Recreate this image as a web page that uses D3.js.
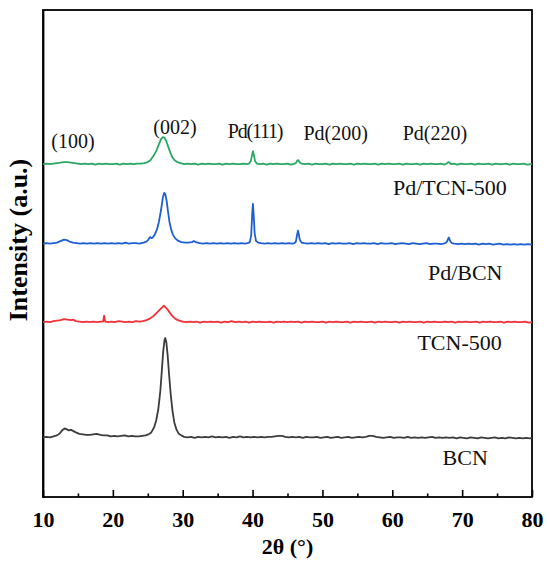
<!DOCTYPE html>
<html>
<head>
<meta charset="utf-8">
<script src="https://cdn.jsdelivr.net/npm/d3@7"></script>
<style>
  body { margin: 0; background: #fff; }
  svg text { font-family: "Liberation Serif", "Times New Roman", serif; }
</style>
</head>
<body>
<svg id="chart" width="550" height="565"></svg>
<script>
// x ticks
const xTicks = [10, 20, 30, 40, 50, 60, 70, 80];
const xMinorTicks = [15, 25, 35, 45, 55, 65, 75];

// series names, vertical offsets (a.u.) and colours
const seriesNames = ["BCN", "TCN-500", "Pd/BCN", "Pd/TCN-500"];
const seriesOffsets = [60, 176, 255, 335];
const seriesColors = ["#3c3c3c", "#f2303a", "#1d5fd2", "#28a862"];

// peak labels
const peakLabels = ["(100)", "(002)", "Pd(111)", "Pd(200)", "Pd(220)"];
const peakLabelX = [14.3, 28.9, 40.35, 51.9, 66.1];
const peakLabelY = [351, 365, 361, 359, 359];

// BCN  [2theta, intensity above own baseline]
const bcn = [
  [10,0],[10.5,0.5],[11,0],[11.5,1],[12,2],[12.4,4],[12.8,7.5],[13.1,9],[13.4,8],[13.7,7],
  [14,7.5],[14.3,6.5],[14.7,5],[15.2,3.5],[15.7,3],[16.2,2.5],[16.7,2.5],[17.2,3],[17.7,3.5],[18.2,2.5],
  [18.7,2],[19.2,2],[19.7,1],[20.2,1.5],[20.7,1],[21.2,1.5],[21.7,2],[22.2,1],[22.7,1.5],[23.2,1],
  [23.7,1],[24.2,1.5],[24.7,2],[25.1,3],[25.5,5],[25.9,10],[26.2,17],[26.5,28],[26.8,47],[27.0,66],
  [27.2,86],[27.4,98],[27.5,100],[27.65,96],[27.85,82],[28.05,63],[28.3,42],[28.55,26],[28.8,15],[29.1,8],
  [29.4,4],[29.8,2],[30.2,0.5],[30.7,0],[31.2,0.5],[31.7,-0.5],[32.2,0.5],[32.7,0],[33.2,0.5],[33.7,0],
  [34.2,1],[34.7,0],[35.2,0.5],[35.7,0],[36.2,0.5],[36.7,-0.5],[37.2,0.5],[37.7,0],[38.2,1],[38.7,0],
  [39.2,0.5],[39.7,0],[40.2,0.5],[40.7,0],[41.2,0.5],[41.7,0],[42.2,0.5],[42.7,0.5],[43.2,1],[43.7,1.5],
  [44.2,1.5],[44.7,0.5],[45.2,0],[45.7,0.5],[46.2,0],[46.7,0.5],[47.2,-0.5],[47.7,0.5],[48.2,0],[48.7,0],
  [49.2,0.5],[49.7,-0.5],[50.2,0],[50.7,0.5],[51.2,-0.5],[51.7,0],[52.2,0.5],[52.7,-0.5],[53.2,0],[53.7,0.5],
  [54.2,-0.5],[54.7,0],[55.2,0.5],[55.7,0],[56.2,0.5],[56.7,1.5],[57.2,1.5],[57.7,0.5],[58.2,0],[58.7,-0.5],
  [59.2,0],[59.7,0.5],[60.2,-0.5],[60.7,0],[61.2,0],[61.7,-0.5],[62.2,0.5],[62.7,-0.5],[63.2,0],[63.7,-0.5],
  [64.2,0],[64.7,-0.5],[65.2,0],[65.7,0.5],[66.2,-0.5],[66.7,0],[67.2,-0.5],[67.7,0],[68.2,-0.5],[68.7,0],
  [69.2,-1],[69.7,0],[70.2,-0.5],[70.7,-1],[71.2,0],[71.7,-0.5],[72.2,-1],[72.7,0],[73.2,-0.5],[73.7,-1],
  [74.2,-0.5],[74.7,0],[75.2,-1],[75.7,-0.5],[76.2,-1],[76.7,0],[77.2,-0.5],[77.7,-1],[78.2,-0.5],[78.7,-1],
  [79.2,-0.5],[79.7,-1],[80,-0.5]
];

// TCN-500
const tcn500 = [
  [10,0],[10.5,0.5],[11,0],[11.5,1],[12,1.5],[12.5,2],[13,3],[13.5,2.5],[14,2],[14.3,2.5],
  [14.7,1],[15.2,0.5],[15.7,0],[16.2,0.5],[16.7,0],[17.2,0.5],[17.7,0],[18.2,0.5],[18.6,0.5],[18.75,6.5],
  [18.9,0.5],[19.3,0],[19.8,0.5],[20.3,0],[20.8,1],[21.3,0.5],[21.8,0],[22.3,0.5],[22.8,0],[23.3,1],
  [23.8,0.5],[24.3,1],[24.8,2],[25.3,3.5],[25.8,6],[26.3,9.5],[26.8,13],[27.1,15],[27.3,16.5],[27.5,15],
  [27.8,13],[28.2,9],[28.6,5.5],[29.0,3],[29.5,1.5],[30,0.5],[30.5,0],[31,0.5],[31.5,0],[32,0.5],
  [32.5,-0.5],[33,0.5],[33.5,0],[34,0.5],[34.5,0],[35,0.5],[35.5,-0.5],[36,0.5],[36.5,0],[37,1],
  [37.5,0],[38,0.5],[38.5,0],[39,0.5],[39.5,-0.5],[40,0.5],[40.5,0],[41,0.5],[41.5,0],[42,0],
  [42.5,0.5],[43,-0.5],[43.5,0.5],[44,0],[44.5,0.5],[45,0],[45.5,0.5],[46,0],[46.5,0.5],[47,-0.5],
  [47.5,0.5],[48,0],[48.5,0.5],[49,0],[49.5,0],[50,0.5],[50.5,-0.5],[51,0.5],[51.5,0],[52,0.5],
  [52.5,0],[53,0],[53.5,0.5],[54,-0.5],[54.5,0.5],[55,0],[55.5,0.5],[56,0],[56.5,0],[57,0.5],
  [57.5,-0.5],[58,0.5],[58.5,0],[59,0.5],[59.5,0],[60,0],[60.5,0.5],[61,-0.5],[61.5,0.5],[62,0],
  [62.5,0.5],[63,0],[63.5,0],[64,0.5],[64.5,-0.5],[65,0.5],[65.5,0],[66,0.5],[66.5,0],[67,0],
  [67.5,0.5],[68,0],[68.5,0.5],[69,-0.5],[69.5,0.5],[70,0],[70.5,0.5],[71,0],[71.5,0],[72,0.5],
  [72.5,-0.5],[73,0.5],[73.5,0],[74,0.5],[74.5,0],[75,0],[75.5,0.5],[76,-0.5],[76.5,0.5],[77,0],
  [77.5,0.5],[78,0],[78.5,0],[79,0.5],[79.5,-0.5],[80,0]
];

// Pd/BCN
const pdBcn = [
  [10,0],[10.5,0.5],[11,0],[11.5,0.5],[12,1],[12.5,2.5],[13,4],[13.4,3.5],[13.8,2],[14.3,1],
  [14.8,0.5],[15.3,0],[15.8,0.5],[16.3,0],[16.8,0.5],[17.3,0],[17.8,0.5],[18.3,0],[18.8,0.5],[19.3,0],
  [19.8,0.5],[20.3,0],[20.8,0.5],[21.3,0],[21.8,1],[22.3,0],[22.8,0.5],[23.3,0.5],[23.8,0],[24.4,1],
  [24.8,2],[25.1,4],[25.3,6.5],[25.5,5.5],[25.7,6],[26.0,9],[26.3,14],[26.6,22],[26.9,34],[27.15,46],
  [27.35,51],[27.5,50],[27.7,43],[27.9,32],[28.1,22],[28.35,14],[28.6,9],[28.9,5.5],[29.3,3],[29.8,1.5],
  [30.3,1],[30.8,1],[31.3,1.5],[31.6,2.5],[31.9,1.5],[32.4,0.5],[32.9,0],[33.4,0.5],[33.9,0],[34.4,0.5],
  [34.9,0],[35.4,0.5],[35.9,0],[36.4,0.5],[36.9,0],[37.4,0.5],[37.9,0],[38.4,0.5],[38.9,0],[39.3,0.5],
  [39.6,1.5],[39.8,8],[39.95,30],[40.05,40],[40.15,30],[40.3,10],[40.5,2.5],[40.8,1],[41.2,0.5],[41.7,0],
  [42.2,0.5],[42.7,0],[43.2,0.5],[43.7,0],[44.2,0.5],[44.7,0],[45.2,0.5],[45.7,0],[46.0,0.5],[46.2,2],
  [46.35,8],[46.5,13],[46.6,10],[46.75,4],[47.0,1],[47.4,0.5],[47.9,0],[48.4,0.5],[48.9,0],[49.4,0.5],
  [49.9,0],[50.4,0.5],[50.9,-0.5],[51.4,0.5],[51.9,0],[52.4,0.5],[52.9,0],[53.4,0],[53.9,0.5],[54.4,-0.5],
  [54.9,0.5],[55.4,0],[55.9,0.5],[56.4,0],[56.9,0],[57.4,0.5],[57.9,-0.5],[58.4,0.5],[58.9,0],[59.4,0],
  [59.9,0.5],[60.4,-0.5],[60.9,0],[61.4,0.5],[61.9,0],[62.4,-0.5],[62.9,0.5],[63.4,0],[63.9,-0.5],[64.4,0],
  [64.9,0.5],[65.4,-0.5],[65.9,0],[66.4,0],[66.9,-0.5],[67.3,0],[67.6,0.5],[67.85,2],[68.0,5],[68.1,6],
  [68.25,3],[68.5,0.5],[68.9,0],[69.4,-0.5],[69.9,0],[70.4,-0.5],[70.9,0],[71.4,-0.5],[71.9,0],[72.4,-1],
  [72.9,0],[73.4,-0.5],[73.9,0],[74.4,-1],[74.9,-0.5],[75.4,0],[75.9,-1],[76.4,-0.5],[76.9,-1],[77.4,-0.5],
  [77.9,-1],[78.4,-0.5],[78.9,-1],[79.4,-0.5],[80,-1]
];

// Pd/TCN-500
const pdTcn500 = [
  [10,0],[10.5,0.5],[11,0],[11.5,0.5],[12,1],[12.5,1.5],[13,2],[13.5,2],[14,1.5],[14.5,1],
  [15,0.5],[15.5,0],[16,0.5],[16.5,0],[17,0.5],[17.5,-0.5],[18,0.5],[18.5,0],[19,0.5],[19.5,0],
  [20,0],[20.5,0.5],[21,-0.5],[21.5,0.5],[22,0],[22.5,0.5],[23,0],[23.5,0.5],[24,0.5],[24.5,1],
  [25,2],[25.4,4],[25.8,8],[26.2,13],[26.6,20],[26.9,25],[27.15,27],[27.4,26.5],[27.65,23],[27.9,18],
  [28.2,12],[28.5,7],[28.8,4],[29.2,2],[29.7,1],[30.2,0],[30.7,0.5],[31.2,0],[31.7,0.5],[32.2,-0.5],
  [32.7,0.5],[33.2,0],[33.7,0.5],[34.2,0],[34.7,0],[35.2,0.5],[35.7,-0.5],[36.2,0.5],[36.7,0],[37.2,0.5],
  [37.7,0],[38.2,0],[38.7,0.5],[39.2,0],[39.5,0.5],[39.75,3],[39.95,10],[40.05,13],[40.2,9],[40.35,3],
  [40.6,0.5],[41,0],[41.5,0.5],[42,-0.5],[42.5,0.5],[43,0],[43.5,0.5],[44,0],[44.5,0],[45,0.5],
  [45.5,-0.5],[46,0.5],[46.2,1],[46.4,3.5],[46.55,4],[46.75,1.5],[47,0.5],[47.5,0],[48,0.5],[48.5,-0.5],
  [49,0.5],[49.5,0],[50,0],[50.5,0.5],[51,-0.5],[51.5,0.5],[52,0],[52.5,0.5],[53,0],[53.5,0],
  [54,0.5],[54.5,-0.5],[55,0.5],[55.5,0],[56,0.5],[56.5,0],[57,0],[57.5,0.5],[58,-0.5],[58.5,0.5],
  [59,0],[59.5,0.5],[60,0],[60.5,0],[61,0.5],[61.5,-0.5],[62,0.5],[62.5,0],[63,0],[63.5,0.5],
  [64,-0.5],[64.5,0.5],[65,0],[65.5,0.5],[66,0],[66.5,0],[67,0.5],[67.5,-0.5],[67.8,0.5],[68,2],
  [68.2,1.5],[68.4,0],[68.8,0.5],[69.3,-0.5],[69.8,0.5],[70.3,0],[70.8,0],[71.3,0.5],[71.8,-0.5],[72.3,0.5],
  [72.8,0],[73.3,0],[73.8,0.5],[74.3,-0.5],[74.8,0.5],[75.3,0],[75.8,0],[76.3,0.5],[76.8,-0.5],[77.3,0.5],
  [77.8,0],[78.3,0],[78.8,0.5],[79.3,-0.5],[80,0]
];

const seriesData = [bcn, tcn500, pdBcn, pdTcn500];

// series labels, placed in data coords
const seriesLabelX = [67.2, 63.6, 65.1, 60.1];
const seriesLabelY = [32, 148, 218, 304];

const margin = { top: 10, right: 18, bottom: 68, left: 43 };
const W = 550, H = 565;
const width = W - margin.left - margin.right;
const height = H - margin.top - margin.bottom;

const svg = d3.select("#chart");
const g = svg.append("g").attr("transform", `translate(${margin.left},${margin.top})`);

const x = d3.scaleLinear().domain([10, 80]).range([0, width]);
const y = d3.scaleLinear().domain([0, 490]).range([height, 0]);

// minor ticks
g.append("g")
  .attr("transform", `translate(0,${height})`)
  .call(d3.axisBottom(x).tickValues(xMinorTicks).tickSize(-3.5).tickFormat(""))
  .call(a => a.select(".domain").remove())
  .selectAll("line").attr("stroke-width", 1.6);

// major ticks + labels
const xAxis = g.append("g")
  .attr("transform", `translate(0,${height})`)
  .call(d3.axisBottom(x).tickValues(xTicks).tickSize(-7).tickPadding(14).tickFormat(d3.format("d")));
xAxis.select(".domain").remove();
xAxis.selectAll("line").attr("stroke-width", 1.6);
xAxis.selectAll("text")
  .attr("font-family", '"Liberation Serif", serif')
  .attr("font-size", 22)
  .attr("font-weight", "bold")
  .attr("fill", "#000");

// left axis, no ticks
g.append("g")
  .call(d3.axisLeft(y).tickValues([]).tickSizeOuter(0))
  .select(".domain").attr("stroke-width", 1.8);

// frame
g.append("rect")
  .attr("width", width)
  .attr("height", height)
  .attr("fill", "none")
  .attr("stroke", "#000")
  .attr("stroke-width", 1.8);

// curves
const line = d3.line()
  .x(d => x(d[0]))
  .y(d => y(d[1]));

seriesData.forEach((s, i) => {
  g.append("path")
    .datum(s.map(p => [p[0], p[1] + seriesOffsets[i]]))
    .attr("fill", "none")
    .attr("stroke", seriesColors[i])
    .attr("stroke-width", 1.8)
    .attr("stroke-linejoin", "round")
    .attr("d", line);
});

// series labels
g.selectAll(".series-label")
  .data(seriesNames)
  .enter().append("text")
  .attr("class", "series-label")
  .attr("x", (d, i) => x(seriesLabelX[i]))
  .attr("y", (d, i) => y(seriesLabelY[i]))
  .attr("font-size", 22)
  .attr("fill", "#111")
  .text(d => d);

// peak labels
g.selectAll(".peak-label")
  .data(peakLabels)
  .enter().append("text")
  .attr("class", "peak-label")
  .attr("x", (d, i) => x(peakLabelX[i]))
  .attr("y", (d, i) => y(peakLabelY[i]))
  .attr("text-anchor", "middle")
  .attr("font-size", 20)
  .attr("fill", "#111")
  .text(d => d)
  .filter(d => d === "Pd(111)")
  .attr("letter-spacing", -1.2);

// axis titles
svg.append("text")
  .attr("x", margin.left + width / 2)
  .attr("y", 554)
  .attr("text-anchor", "middle")
  .attr("font-size", 22)
  .attr("font-weight", "bold")
  .text("2θ (°)");

svg.append("text")
  .attr("transform", "translate(27,240) rotate(-90)")
  .attr("text-anchor", "middle")
  .attr("font-size", 26)
  .attr("font-weight", "bold")
  .text("Intensity (a.u.)");
</script>
</body>
</html>
